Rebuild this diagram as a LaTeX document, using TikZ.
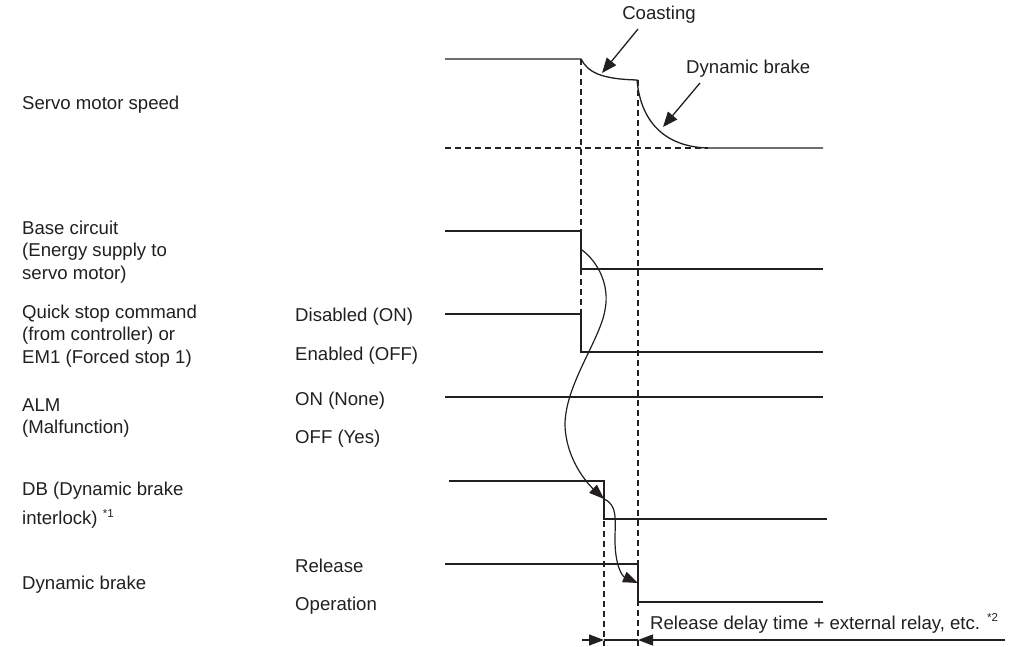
\documentclass[tikz,border=0pt]{standalone}
\usepackage{fontspec}
\setmainfont{Liberation Sans}
\usetikzlibrary{arrows.meta}
\definecolor{ink}{RGB}{35,31,32}
\tikzset{
  sig/.style={draw=ink,line width=1.3pt},
  thick sig/.style={draw=ink,line width=1.8pt},
  guide/.style={draw=ink,line width=1.2pt,dash pattern=on 6pt off 4pt},
  callout/.style={draw=ink,line width=1.3pt,-{Triangle[length=15pt,width=12pt]}},
  flow/.style={draw=ink,line width=1.2pt,-{Triangle[length=15pt,width=11pt]}},
  lbl/.style={text=ink,inner sep=0pt,align=left,anchor=north west,font=\fontsize{18.6}{22.5}\selectfont},
  state/.style={text=ink,inner sep=0pt,anchor=base west,font=\fontsize{18.6}{22.5}\selectfont},
}
\newcommand{\supmark}[1]{{\fontsize{11.5}{11.5}\selectfont\raisebox{7.5pt}{#1}}}
\begin{document}
\begin{tikzpicture}[x=1pt,y=-1pt]
\useasboundingbox (0,0) rectangle (1018,647);
% left labels
\node[lbl] (lspeed) at (22,96) {Servo motor speed};
\node[lbl] (lbase) at (22,220.5) {Base circuit\\(Energy supply to\\servo motor)};
\node[lbl] (lqs) at (22,304.5) {Quick stop command\\(from controller) or\\EM1 (Forced stop 1)};
\node[lbl] (lalm) at (22,398.5) {ALM\\(Malfunction)};
\node[lbl] (ldb) at (22,481.5) {DB (Dynamic brake\\[7pt]interlock) \supmark{*1}};
\node[lbl] (ldyn) at (22,575.5) {Dynamic brake};
% state labels
\node[state] (s1) at (295,322) {Disabled (ON)};
\node[state] (s2) at (295,360) {Enabled (OFF)};
\node[state] (s3) at (295,405) {ON (None)};
\node[state] (s4) at (295,443) {OFF (Yes)};
\node[state] (s5) at (295,572) {Release};
\node[state] (s6) at (295,610) {Operation};
% guides
\draw[guide] (581,59) -- (581,352);
\draw[guide] (638,80) -- (638,646);
\draw[guide] (604,481) -- (604,646);
\draw[guide] (445,148) -- (708,148);
% servo motor speed
\draw[sig] (445,59) -- (581,59) .. controls (588,72) and (600,79) .. (637,80)
  .. controls (641,125) and (668,147) .. (708,148) -- (823,148);
% base circuit
\draw[thick sig] (445,231) -- (581,231) -- (581,269) -- (823,269);
% quick stop
\draw[sig] (445,314) -- (581,314) -- (581,352) -- (823,352);
% ALM
\draw[sig] (445,397) -- (823,397);
% DB
\draw[sig] (449,481) -- (604,481) -- (604,519) -- (827,519);
% dynamic brake
\draw[sig] (445,564) -- (638,564) -- (638,602) -- (823,602);
% callouts
\node[text=ink,inner sep=1pt,font=\fontsize{18.6}{22}\selectfont] (tcoast) at (659,15) {Coasting};
\node[text=ink,inner sep=1pt,font=\fontsize{18.6}{22}\selectfont,anchor=west] (tdb) at (685,69) {Dynamic brake};
\coordinate (pcoast) at (602,73);
\coordinate (pdb) at (663,127);
\draw[callout] (638,29) -- (pcoast);
\draw[callout] (700,83) -- (pdb);
% causal arrows
\coordinate (c0) at (582,250);
\coordinate (c1) at (604,499);
\coordinate (c2) at (638,583);
\draw[flow] (c0) .. controls (598,262) and (610,285) .. (605,310)
  .. controls (600,340) and (565,385) .. (565,425)
  .. controls (566,460) and (588,484) .. (c1);
\draw[flow] (c1) .. controls (618,505) and (615,520) .. (615,540)
  .. controls (615,565) and (622,576) .. (c2);
% dimension
\coordinate (d0) at (582,640);
\coordinate (d1) at (604,640);
\coordinate (d2) at (638,640);
\coordinate (d3) at (1005,640);
\draw[flow] (d0) -- (d1);
\draw[ink,line width=1.2pt] (d1) -- (d2);
\draw[flow] (d3) -- (d2);
\node[state] (tdim) at (650,629) {Release delay time + external relay, etc. \supmark{*2}};
\end{tikzpicture}
\end{document}
